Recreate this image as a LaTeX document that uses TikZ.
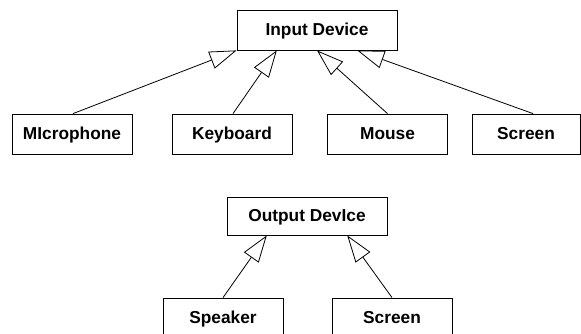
\documentclass[tikz,border=0pt]{standalone}
\usepackage{fontspec}
\setmainfont{Liberation Sans}
\usetikzlibrary{arrows.meta,calc}
\begin{document}
\begin{tikzpicture}[x=1pt,y=-1pt,
  cls/.style={draw=black,line width=0.8pt,fill=white,minimum width=120pt,minimum height=40pt,inner sep=0pt,text height=12.4pt,text depth=2pt,font=\fontsize{17.3}{20}\selectfont\bfseries},
  inh/.style={draw=black,line width=0.8pt,-{Triangle[open,length=27pt,width=18pt,line width=0.8pt]}}]
\useasboundingbox (0,0) rectangle (581,334);
\clip (0,0) rectangle (581,334);
\fill[white] (0,0) rectangle (581,334);
% top group
\node[cls,minimum width=160pt] (in) at (317,30) {Input Device};
\node[cls] (mic) at (72,134) {MIcrophone};
\node[cls] (kb) at (232,134) {Keyboard};
\node[cls] (mo) at (387.5,134) {Mouse};
\node[cls,minimum width=108pt] (sc) at (526,134) {Screen};
\coordinate (scn) at ($(sc.north)+(7,0)$);
\draw[inh] ($(mic.north)+(1,0)$) -- (in.south west);
\draw[inh] ($(kb.north)+(1,0)$) -- ($(in.south west)!0.25!(in.south east)$);
\draw[inh] (mo.north) -- (in.south);
\draw[inh] (scn) -- ($(in.south west)!0.75!(in.south east)$);
% bottom group
\node[cls,minimum width=160pt,minimum height=38pt] (out) at (307,216) {Output DevIce};
\node[cls] (sp) at (223,318) {Speaker};
\node[cls] (sc2) at (392,318) {Screen};
\draw[inh] (sp.north) -- ($(out.south west)!0.25!(out.south east)$);
\draw[inh] (sc2.north) -- ($(out.south west)!0.75!(out.south east)$);
\end{tikzpicture}
\end{document}
